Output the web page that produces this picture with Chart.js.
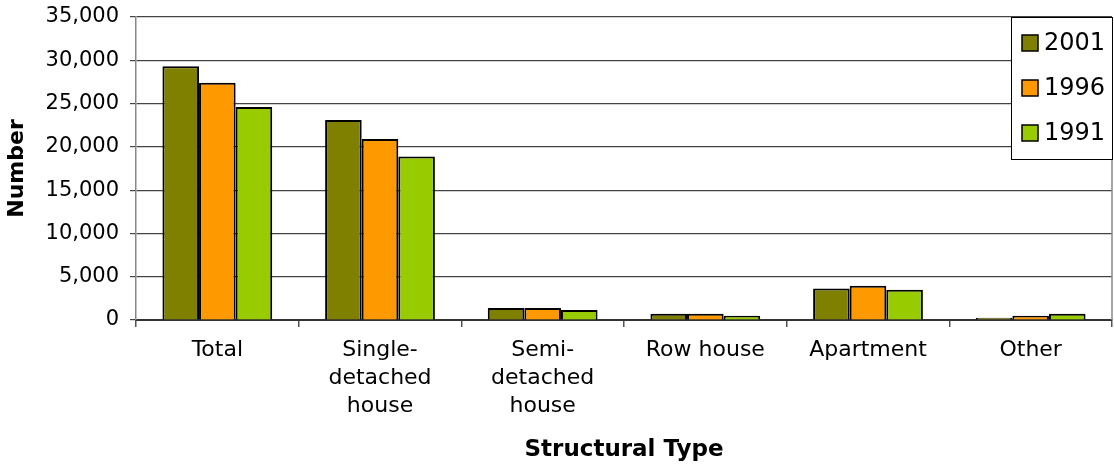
<!DOCTYPE html>
<html>
<head>
<meta charset="utf-8">
<script src="https://cdn.jsdelivr.net/npm/chart.js@4.4.1/dist/chart.umd.min.js"></script>
<style>
  html, body { margin: 0; padding: 0; background: #fff; overflow: hidden; }
  #chart { display: block; }
</style>
</head>
<body>
<canvas id="chart" width="1114" height="465"></canvas>
<script>
// dados
const categorias = ['Total', ['Single-', 'detached', 'house'], ['Semi-', 'detached', 'house'], 'Row house', 'Apartment', 'Other'];
const anos = ['2001', '1996', '1991'];
const valores2001 = [29300, 23100, 1400, 730, 3650, 270];
const valores1996 = [27400, 20900, 1400, 730, 3950, 500];
const valores1991 = [24600, 18900, 1150, 500, 3500, 730];
const cores = ['#808000', '#FF9900', '#99CC00'];

// legenda desenhada dentro da área do gráfico, canto superior direito
const legendaBox = {
  id: 'legendaBox',
  afterDraw(chart) {
    const ctx = chart.ctx;
    const area = chart.chartArea;
    ctx.save();
    // borda direita da área
    ctx.strokeStyle = '#888';
    ctx.lineWidth = 1.5;
    ctx.beginPath();
    ctx.moveTo(area.right, area.top);
    ctx.lineTo(area.right, area.bottom);
    ctx.stroke();

    const x = 1011, y = area.top, w = 102, h = 143;
    ctx.fillStyle = '#fff';
    ctx.fillRect(x, y, w, h);
    ctx.strokeStyle = '#000';
    ctx.lineWidth = 1;
    ctx.strokeRect(x + 0.5, y + 0.5, w - 1, h - 1);

    ctx.font = '24px "DejaVu Sans"';
    ctx.textBaseline = 'middle';
    chart.data.datasets.forEach(function(ds, i) {
      const cy = y + 26 + i * 45;
      ctx.fillStyle = ds.backgroundColor;
      ctx.fillRect(x + 11, cy - 8, 16, 16);
      ctx.strokeStyle = '#000';
      ctx.lineWidth = 1.5;
      ctx.strokeRect(x + 11, cy - 8, 16, 16);
      ctx.fillStyle = '#000';
      ctx.fillText(ds.label, x + 33, cy + 1);
    });
    ctx.restore();
  }
};

const ctx = document.getElementById('chart').getContext('2d');
new Chart(ctx, {
  type: 'bar',
  data: {
    labels: categorias,
    datasets: [
      { label: anos[0], data: valores2001, backgroundColor: cores[0] },
      { label: anos[1], data: valores1996, backgroundColor: cores[1] },
      { label: anos[2], data: valores1991, backgroundColor: cores[2] }
    ].map(function(ds) {
      return Object.assign(ds, {
        borderColor: '#000',
        borderWidth: 2,
        categoryPercentage: 0.675,
        barPercentage: 1
      });
    })
  },
  options: {
    responsive: false,
    animation: false,
    devicePixelRatio: 1,
    layout: { padding: { left: 0, right: 2, top: 17, bottom: 0 } },
    plugins: {
      legend: { display: false },
      tooltip: { enabled: false }
    },
    scales: {
      x: {
        afterFit: function(scale) { scale.height = 145; },
        grid: {
          offset: true,
          drawOnChartArea: false,
          drawTicks: true,
          tickLength: 7,
          color: '#555',
          lineWidth: 1.5
        },
        border: { color: '#333', width: 2 },
        ticks: {
          color: '#000',
          padding: 9,
          maxRotation: 0,
          autoSkip: false,
          font: { family: 'DejaVu Sans', size: 22, lineHeight: 1.27 }
        },
        title: {
          display: true,
          text: 'Structural Type',
          color: '#000',
          padding: { top: 4, bottom: 1 },
          font: { family: 'DejaVu Sans', size: 23, weight: 'bold' }
        }
      },
      y: {
        min: 0,
        max: 35000,
        afterFit: function(scale) {
          scale.width = 136;
          scale.paddingTop = 0;
          scale.paddingBottom = 0;
        },
        grid: {
          color: '#444',
          lineWidth: 1.2,
          drawTicks: true,
          tickLength: 6
        },
        border: { color: '#888', width: 1.5 },
        ticks: {
          stepSize: 5000,
          color: '#000',
          padding: 11,
          font: { family: 'DejaVu Sans', size: 21 },
          callback: function(v) { return v.toLocaleString('en-US'); }
        },
        title: {
          display: true,
          text: 'Number',
          color: '#000',
          padding: { top: 4, bottom: 4 },
          font: { family: 'DejaVu Sans', size: 22, weight: 'bold' }
        }
      }
    }
  },
  plugins: [legendaBox]
});
</script>
</body>
</html>
